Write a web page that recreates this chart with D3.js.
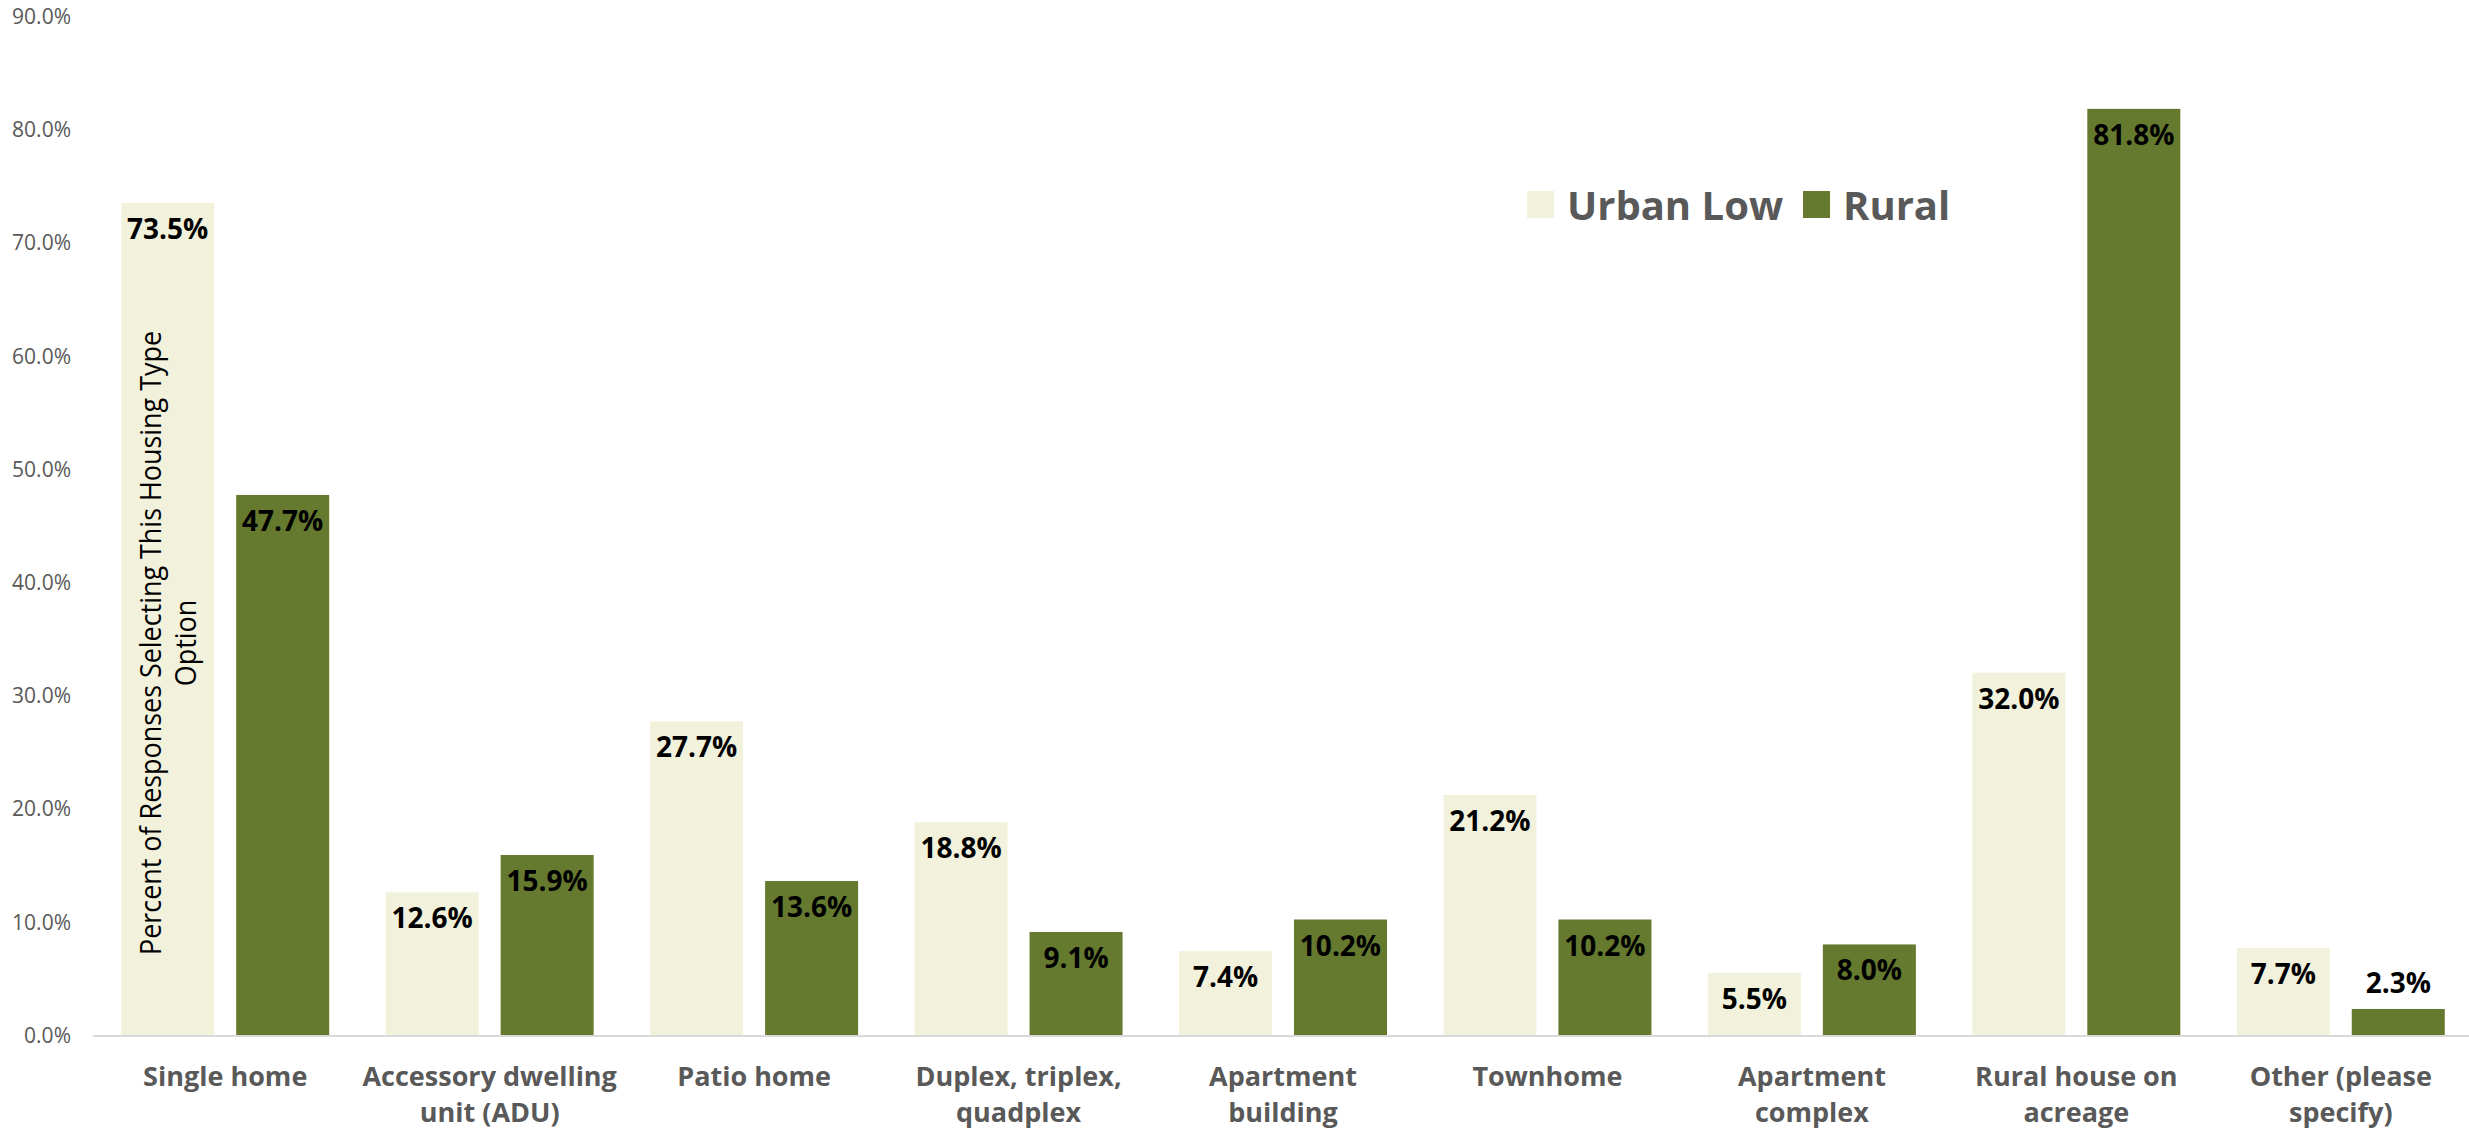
<!DOCTYPE html>
<html>
<head>
<meta charset="utf-8">
<script src="https://cdn.jsdelivr.net/npm/d3@7"></script>
<style>
  html, body { margin: 0; padding: 0; background: #fff; }
  svg { display: block; }
</style>
</head>
<body>
<svg id="chart" width="2469" height="1131"></svg>
<script>
// ---- data ----
const categories = ["Single home", "Accessory dwelling unit (ADU)", "Patio home", "Duplex, triplex, quadplex",
  "Apartment building", "Townhome", "Apartment complex", "Rural house on acreage", "Other (please specify)"];
const categoryLines = [["Single home"], ["Accessory dwelling", "unit (ADU)"], ["Patio home"],
  ["Duplex, triplex,", "quadplex"], ["Apartment", "building"], ["Townhome"], ["Apartment", "complex"],
  ["Rural house on", "acreage"], ["Other (please", "specify)"]];
const seriesNames = ["Urban Low", "Rural"];
const urbanLow = [73.5, 12.6, 27.7, 18.8, 7.4, 21.2, 5.5, 32.0, 7.7];
const rural = [47.7, 15.9, 13.6, 9.1, 10.2, 10.2, 8.0, 81.8, 2.3];
const yTicks = [0, 10, 20, 30, 40, 50, 60, 70, 80, 90];
const yTitleLines = ["Percent of Responses Selecting This Housing Type", "Option"];

const colors = { "Urban Low": "#F2F2DC", "Rural": "#657A2F" };
const FONT = "'Open Sans', 'Noto Sans', sans-serif";

const svg = d3.select("#chart");

const x0 = d3.scaleBand().domain(categories).range([93, 2473]).paddingInner(0).paddingOuter(0);
const x1 = d3.scaleBand().domain(seriesNames).range([0, x0.bandwidth()]).paddingInner(0.191).paddingOuter(0.2455);
const y = d3.scaleLinear().domain([0, 90]).range([1035, 16]);

const rows = categories.map((c, i) => ({ cat: c, lines: categoryLines[i], vals: [
  { s: "Urban Low", v: urbanLow[i] }, { s: "Rural", v: rural[i] }] }));

// y tick labels
const yAxis = d3.axisLeft(y).tickValues(yTicks).tickFormat(d => d.toFixed(1) + "%").tickSize(0).tickPadding(0);
const gy = svg.append("g").attr("transform", "translate(71,0)").call(yAxis);
gy.select(".domain").remove();
gy.selectAll("text").attr("font-family", FONT).attr("font-size", 21).attr("fill", "#595959")
  .attr("dy", "0.35em");

// bars
const groups = svg.append("g").selectAll("g").data(rows).join("g")
  .attr("transform", d => `translate(${x0(d.cat)},0)`);

groups.selectAll("rect").data(d => d.vals).join("rect")
  .attr("x", d => x1(d.s))
  .attr("width", x1.bandwidth())
  .attr("y", d => y(d.v))
  .attr("height", d => y(0) - y(d.v))
  .attr("fill", d => colors[d.s]);

// data labels
groups.selectAll("text.val").data(d => d.vals).join("text")
  .attr("class", "val")
  .attr("x", d => x1(d.s) + x1.bandwidth() / 2)
  .attr("y", d => (y(0) - y(d.v) < 45) ? y(d.v) - 16 : y(d.v) + 36)
  .attr("text-anchor", "middle")
  .attr("font-family", FONT).attr("font-weight", 700).attr("font-size", 28)
  .attr("fill", "#000")
  .text(d => d.v.toFixed(1) + "%");

// x axis baseline
svg.append("line").attr("x1", 93).attr("x2", 2469).attr("y1", y(0) + 1).attr("y2", y(0) + 1)
  .attr("stroke", "#D9D9D9").attr("stroke-width", 2);

// category labels
const xAxis = d3.axisBottom(x0).tickSize(0).tickFormat("");
const gx = svg.append("g").attr("transform", `translate(0,${y(0)})`).call(xAxis);
gx.select(".domain").remove();
gx.selectAll(".tick").each(function(d, i) {
  const t = d3.select(this).append("text")
    .attr("text-anchor", "middle")
    .attr("font-family", FONT).attr("font-weight", 700).attr("font-size", 27)
    .attr("fill", "#595959");
  categoryLines[i].forEach((ln, j) => {
    t.append("tspan").attr("x", 0).attr("y", 51 + j * 36).text(ln);
  });
});

// y title (rotated, condensed)
const title = svg.append("g").attr("transform", "translate(0,643) rotate(-90)");
const t1 = title.append("text").attr("x", 0).attr("y", 161).attr("text-anchor", "middle")
  .attr("font-family", FONT).attr("font-size", 29).attr("fill", "#000").text(yTitleLines[0]);
const nat1 = t1.node().getComputedTextLength();
const ratio = 624 / nat1;
t1.attr("textLength", 624).attr("lengthAdjust", "spacingAndGlyphs");
const t2 = title.append("text").attr("x", 0).attr("y", 196).attr("text-anchor", "middle")
  .attr("font-family", FONT).attr("font-size", 29).attr("fill", "#000").text(yTitleLines[1]);
const nat2 = t2.node().getComputedTextLength();
t2.attr("textLength", nat2 * ratio).attr("lengthAdjust", "spacingAndGlyphs");

// legend
const legendPos = [{ s: "Urban Low", sx: 1527, tx: 1567 }, { s: "Rural", sx: 1803, tx: 1843 }];
const lg = svg.append("g");
legendPos.forEach(p => {
  lg.append("rect").attr("x", p.sx).attr("y", 191).attr("width", 27).attr("height", 27).attr("fill", colors[p.s]);
  lg.append("text").attr("x", p.tx).attr("y", 220)
    .attr("font-family", FONT).attr("font-weight", 700).attr("font-size", 40).attr("fill", "#595959")
    .text(p.s);
});
</script>
</body>
</html>
